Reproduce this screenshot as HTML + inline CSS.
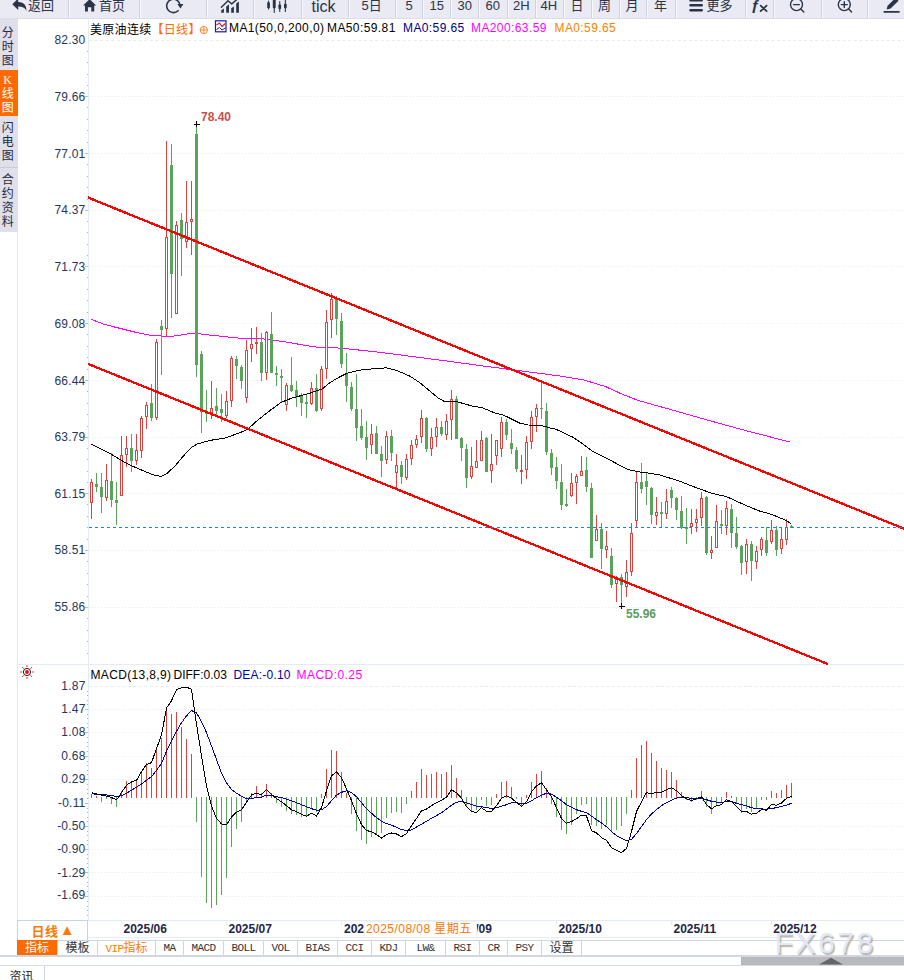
<!DOCTYPE html>
<html lang="zh-CN"><head><meta charset="utf-8"><title>美原油连续 日线</title>
<style>
html,body{margin:0;padding:0;background:#fff}
body{width:904px;height:980px;position:relative;overflow:hidden;font-family:"Liberation Sans","Noto Sans CJK SC",sans-serif;font-size:12px;color:#000}
#tool{position:absolute;left:0;top:0;width:904px;height:18px;background:#e9eaf3;border-bottom:1px solid #dcdde6;overflow:hidden}
#tool span{position:absolute;color:#2b3346;white-space:nowrap}
#tool .t13{font-size:13px;top:-3px;line-height:18px}
#tool .t16{font-size:16px;top:-3.5px;line-height:20px}
#tool .sep{position:absolute;top:0;width:1px;height:18px;background:#d0d4de;border-right:1px solid #f7f8fb}
#side{position:absolute;left:0;top:19px;width:18px;height:213px;background:#dfe0e9}
#side div{position:absolute;left:0;width:18px;padding-right:2.7px;box-sizing:border-box;text-align:center;font-size:12px;line-height:14px;color:#1f2a44}
#side .on{background:#ff6a00;color:#fff}
.yl{position:absolute;left:30px;width:55.5px;text-align:right;font-size:12px;line-height:14px;color:#27355a;letter-spacing:0.2px}
.dl{position:absolute;top:921px;font-size:12px;line-height:16px;font-weight:bold;color:#1d2748}
.hd{position:absolute;top:20px;height:16px;line-height:16px;font-size:12px;white-space:nowrap;letter-spacing:0.4px}
.tab{position:absolute;top:940px;height:15px;line-height:17px;text-align:center;font-size:11px;font-family:"Liberation Mono","Noto Sans CJK SC",monospace;letter-spacing:-0.6px;color:#333;border-left:1px solid #cdd7e2;box-sizing:border-box}
.tab.cn,.tab.on,.tab.vip{font-family:"Liberation Sans","Noto Sans CJK SC",sans-serif;font-size:12px;letter-spacing:0}
.tab.on{background:#ff6a00;color:#fff;border-left:none}
.tab.cn,.tab.on,.tab.vip{line-height:17px}
.tab.vip{color:#ff7a00}
.tab.vip .v{font-family:"Liberation Mono",monospace;font-size:11px;letter-spacing:-0.6px}
</style></head><body>
<svg width="904" height="980" viewBox="0 0 904 980" style="position:absolute;left:0;top:0" shape-rendering="crispEdges">
<line x1="89" y1="40.5" x2="904" y2="40.5" stroke="#e6edf3" stroke-width="1" stroke-dasharray="3 2.5"/>
<line x1="89" y1="96.5" x2="904" y2="96.5" stroke="#e4ebf1" stroke-width="1" stroke-dasharray="1 2"/>
<line x1="89" y1="153.5" x2="904" y2="153.5" stroke="#e4ebf1" stroke-width="1" stroke-dasharray="1 2"/>
<line x1="89" y1="210.5" x2="904" y2="210.5" stroke="#e4ebf1" stroke-width="1" stroke-dasharray="1 2"/>
<line x1="89" y1="266.5" x2="904" y2="266.5" stroke="#e4ebf1" stroke-width="1" stroke-dasharray="1 2"/>
<line x1="89" y1="323.5" x2="904" y2="323.5" stroke="#e4ebf1" stroke-width="1" stroke-dasharray="1 2"/>
<line x1="89" y1="380.5" x2="904" y2="380.5" stroke="#e4ebf1" stroke-width="1" stroke-dasharray="1 2"/>
<line x1="89" y1="437.5" x2="904" y2="437.5" stroke="#e4ebf1" stroke-width="1" stroke-dasharray="1 2"/>
<line x1="89" y1="493.5" x2="904" y2="493.5" stroke="#e4ebf1" stroke-width="1" stroke-dasharray="1 2"/>
<line x1="89" y1="550.5" x2="904" y2="550.5" stroke="#e4ebf1" stroke-width="1" stroke-dasharray="1 2"/>
<line x1="89" y1="607.5" x2="904" y2="607.5" stroke="#e4ebf1" stroke-width="1" stroke-dasharray="1 2"/>
<line x1="89" y1="686.5" x2="904" y2="686.5" stroke="#e6edf3" stroke-width="1" stroke-dasharray="3 2.5"/>
<line x1="89" y1="709.5" x2="904" y2="709.5" stroke="#e4ebf1" stroke-width="1" stroke-dasharray="1 2"/>
<line x1="89" y1="732.5" x2="904" y2="732.5" stroke="#e4ebf1" stroke-width="1" stroke-dasharray="1 2"/>
<line x1="89" y1="756.5" x2="904" y2="756.5" stroke="#e4ebf1" stroke-width="1" stroke-dasharray="1 2"/>
<line x1="89" y1="779.5" x2="904" y2="779.5" stroke="#e4ebf1" stroke-width="1" stroke-dasharray="1 2"/>
<line x1="89" y1="803.5" x2="904" y2="803.5" stroke="#e4ebf1" stroke-width="1" stroke-dasharray="1 2"/>
<line x1="89" y1="826.5" x2="904" y2="826.5" stroke="#e4ebf1" stroke-width="1" stroke-dasharray="1 2"/>
<line x1="89" y1="849.5" x2="904" y2="849.5" stroke="#e4ebf1" stroke-width="1" stroke-dasharray="1 2"/>
<line x1="89" y1="872.5" x2="904" y2="872.5" stroke="#e4ebf1" stroke-width="1" stroke-dasharray="1 2"/>
<line x1="89" y1="896.5" x2="904" y2="896.5" stroke="#e4ebf1" stroke-width="1" stroke-dasharray="1 2"/>
<line x1="88.5" y1="18" x2="88.5" y2="920" stroke="#e4ebf2"/>
<line x1="17.5" y1="232" x2="17.5" y2="956" stroke="#e4ebf2"/>
<line x1="18" y1="664.5" x2="904" y2="664.5" stroke="#e4ebf2"/>
<line x1="18" y1="920.5" x2="904" y2="920.5" stroke="#e4ebf2"/>
<path d="M87 51.5H88 M87 62.5H88 M87 74.5H88 M87 85.5H88 M87 107.5H88 M87 119.5H88 M87 130.5H88 M87 142.5H88 M87 164.5H88 M87 176.5H88 M87 187.5H88 M87 199.5H88 M87 221.5H88 M87 232.5H88 M87 244.5H88 M87 255.5H88 M87 277.5H88 M87 289.5H88 M87 300.5H88 M87 312.5H88 M87 334.5H88 M87 346.5H88 M87 357.5H88 M87 369.5H88 M87 391.5H88 M87 403.5H88 M87 414.5H88 M87 426.5H88 M87 448.5H88 M87 459.5H88 M87 471.5H88 M87 482.5H88 M87 504.5H88 M87 516.5H88 M87 527.5H88 M87 539.5H88 M87 561.5H88 M87 573.5H88 M87 584.5H88 M87 596.5H88 M87 618.5H88 M87 630.5H88 M87 641.5H88 M87 653.5H88 M87 691.5H88 M87 695.5H88 M87 700.5H88 M87 704.5H88 M87 714.5H88 M87 718.5H88 M87 723.5H88 M87 727.5H88 M87 737.5H88 M87 742.5H88 M87 746.5H88 M87 751.5H88 M87 761.5H88 M87 765.5H88 M87 770.5H88 M87 774.5H88 M87 784.5H88 M87 789.5H88 M87 793.5H88 M87 798.5H88 M87 808.5H88 M87 812.5H88 M87 817.5H88 M87 821.5H88 M87 831.5H88 M87 835.5H88 M87 840.5H88 M87 844.5H88 M87 854.5H88 M87 858.5H88 M87 863.5H88 M87 867.5H88 M87 877.5H88 M87 882.5H88 M87 886.5H88 M87 891.5H88 M87 901.5H88 M87 906.5H88 M87 910.5H88 M87 915.5H88" stroke="#a6b0ba" fill="none"/>
<path d="M85 96.5H88 M85 153.5H88 M85 210.5H88 M85 266.5H88 M85 323.5H88 M85 380.5H88 M85 437.5H88 M85 493.5H88 M85 550.5H88 M85 607.5H88 M85 709.5H88 M85 732.5H88 M85 756.5H88 M85 779.5H88 M85 803.5H88 M85 826.5H88 M85 849.5H88 M85 872.5H88 M85 896.5H88" stroke="#b6bec8" fill="none"/>
<line x1="121.5" y1="921" x2="121.5" y2="925" stroke="#e4ebf2"/>
<line x1="226.5" y1="921" x2="226.5" y2="925" stroke="#e4ebf2"/>
<line x1="341.5" y1="921" x2="341.5" y2="925" stroke="#e4ebf2"/>
<line x1="446.5" y1="921" x2="446.5" y2="925" stroke="#e4ebf2"/>
<line x1="556.5" y1="921" x2="556.5" y2="925" stroke="#e4ebf2"/>
<line x1="671.5" y1="921" x2="671.5" y2="925" stroke="#e4ebf2"/>
<line x1="771.5" y1="921" x2="771.5" y2="925" stroke="#e4ebf2"/>
<polyline fill="none" stroke="#ff00ff" stroke-width="1" points="91,319.3 104.6,324.5 120.9,328.6 137.2,332.7 153.6,335.9 173.2,336.2 191.1,333.4 197,333.3 205,334.6 240,338.2 260,338.5 284.5,341.7 313.9,346.9 341.6,348.2 380,352.3 445,360.8 487,366.5 560,376 584,380 605.3,386.5 621.6,393.9 638,400.4 654.3,405 675.4,410.9 710.8,421 746.2,430.7 790.4,442.2"/>
<path d="M91.5 479.1V482.3M91.5 502.2V518.9M106.5 464.2V480.4M106.5 497.3V500.6M121.5 436.1V455.2M121.5 495.4V495.7M126.5 436.1V448.4M126.5 454.4V466.7M136.5 434.0V450.0M136.5 460.6V464.7M141.5 416.2V418.2M141.5 450.5V457.7M146.5 402.2V405.1M146.5 416.9V428.8M156.5 339.1V342.3M156.5 417.7V419.8M166.5 141.0V237.0M166.5 328.8V336.1M176.5 221.0V225.1M176.5 313.3V313.6M186.5 181.0V222.3M186.5 241.4V247.5M191.5 181.0V219.0M191.5 221.8V254.5M211.5 380.8V408.6M211.5 412.7V418.9M226.5 390.9V401.2M226.5 415.9V418.0M231.5 356.0V358.0M231.5 400.4V406.6M246.5 340.2V350.2M246.5 397.5V402.5M251.5 328.0V344.2M251.5 348.6V361.8M256.5 327.1V342.3M256.5 343.1V353.6M266.5 331.1V332.1M266.5 372.8V379.6M286.5 382.9V385.3M286.5 404.4V410.6M311.5 382.0V388.6M311.5 403.6V404.9M321.5 366.0V369.8M321.5 408.7V410.6M326.5 309.9V322.1M326.5 368.5V378.8M331.5 293.1V299.1M331.5 319.5V337.6M371.5 424.1V434.1M371.5 444.6V453.9M386.5 431.0V436.2M386.5 459.6V463.7M396.5 454.2V465.3M396.5 472.7V488.2M406.5 454.2V459.3M406.5 477.9V480.0M411.5 440.0V445.2M411.5 458.8V464.5M416.5 435.1V439.5M416.5 444.9V447.7M421.5 410.3V418.3M421.5 436.4V442.8M431.5 428.2V437.6M431.5 448.5V455.5M436.5 418.0V427.3M436.5 436.4V446.5M446.5 414.4V421.2M446.5 434.6V439.7M451.5 390.2V399.2M451.5 419.6V439.7M471.5 447.0V466.9M471.5 476.7V478.9M476.5 440.0V461.2M476.5 467.8V467.8M481.5 431.0V440.0M481.5 460.7V460.7M491.5 434.0V464.0M491.5 470.7V482.8M496.5 440.0V440.8M496.5 455.5V464.8M501.5 416.8V422.0M501.5 448.7V456.8M521.5 455.0V470.4M521.5 471.0V484.1M526.5 435.9V442.1M526.5 469.4V478.9M531.5 410.9V417.1M531.5 441.1V449.0M536.5 404.1V408.2M536.5 416.3V431.8M571.5 473.1V483.2M571.5 495.9V496.7M576.5 474.2V476.3M576.5 482.5V503.6M581.5 455.9V471.4M581.5 475.5V475.5M596.5 515.1V529.0M596.5 540.4V540.4M606.5 531.1V546.9M606.5 549.9V557.9M616.5 576.3V579.1M616.5 583.3V601.6M626.5 560.0V572.2M626.5 586.1V596.7M631.5 523.3V533.1M631.5 571.4V575.8M636.5 472.2V482.0M636.5 520.2V527.0M656.5 497.1V512.1M656.5 515.7V524.7M666.5 489.0V501.2M666.5 513.5V518.7M691.5 509.1V523.3M691.5 526.5V533.9M696.5 509.1V519.2M696.5 522.4V531.8M701.5 492.2V498.3M701.5 517.1V525.7M711.5 536.0V550.2M711.5 552.7V558.9M716.5 505.0V521.1M716.5 547.4V547.4M726.5 501.2V508.2M726.5 525.7V534.7M746.5 538.8V544.2M746.5 561.6V573.9M756.5 546.1V551.3M756.5 561.6V568.7M761.5 537.1V539.3M761.5 549.4V555.9M771.5 520.0V530.1M771.5 541.6V543.7M781.5 528.2V539.1M781.5 548.6V553.8M786.5 519.2V527.8M786.5 539.3V544.5" stroke="#d6453f" stroke-width="1" fill="none"/>
<g fill="#fff" stroke="#d6453f" stroke-width="1"><rect x="90.5" y="482.3" width="2" height="19.9"/><rect x="105.5" y="480.4" width="2" height="16.9"/><rect x="120.5" y="455.2" width="2" height="40.2"/><rect x="125.5" y="448.4" width="2" height="6.0"/><rect x="135.5" y="450.0" width="2" height="10.6"/><rect x="140.5" y="418.2" width="2" height="32.3"/><rect x="145.5" y="405.1" width="2" height="11.8"/><rect x="155.5" y="342.3" width="2" height="75.4"/><rect x="165.5" y="237.0" width="2" height="91.8"/><rect x="175.5" y="225.1" width="2" height="88.2"/><rect x="185.5" y="222.3" width="2" height="19.1"/><rect x="190.5" y="219.0" width="2" height="2.8"/><rect x="210.5" y="408.6" width="2" height="4.1"/><rect x="225.5" y="401.2" width="2" height="14.7"/><rect x="230.5" y="358.0" width="2" height="42.4"/><rect x="245.5" y="350.2" width="2" height="47.3"/><rect x="250.5" y="344.2" width="2" height="4.4"/><rect x="255.5" y="342.3" width="2" height="1.5"/><rect x="265.5" y="332.1" width="2" height="40.7"/><rect x="285.5" y="385.3" width="2" height="19.1"/><rect x="310.5" y="388.6" width="2" height="15.0"/><rect x="320.5" y="369.8" width="2" height="38.9"/><rect x="325.5" y="322.1" width="2" height="46.4"/><rect x="330.5" y="299.1" width="2" height="20.4"/><rect x="370.5" y="434.1" width="2" height="10.5"/><rect x="385.5" y="436.2" width="2" height="23.4"/><rect x="395.5" y="465.3" width="2" height="7.4"/><rect x="405.5" y="459.3" width="2" height="18.6"/><rect x="410.5" y="445.2" width="2" height="13.6"/><rect x="415.5" y="439.5" width="2" height="5.4"/><rect x="420.5" y="418.3" width="2" height="18.1"/><rect x="430.5" y="437.6" width="2" height="10.9"/><rect x="435.5" y="427.3" width="2" height="9.1"/><rect x="445.5" y="421.2" width="2" height="13.4"/><rect x="450.5" y="399.2" width="2" height="20.4"/><rect x="470.5" y="466.9" width="2" height="9.8"/><rect x="475.5" y="461.2" width="2" height="6.6"/><rect x="480.5" y="440.0" width="2" height="20.7"/><rect x="490.5" y="464.0" width="2" height="6.7"/><rect x="495.5" y="440.8" width="2" height="14.7"/><rect x="500.5" y="422.0" width="2" height="26.7"/><rect x="520.5" y="470.4" width="2" height="1.5"/><rect x="525.5" y="442.1" width="2" height="27.3"/><rect x="530.5" y="417.1" width="2" height="24.0"/><rect x="535.5" y="408.2" width="2" height="8.1"/><rect x="570.5" y="483.2" width="2" height="12.7"/><rect x="575.5" y="476.3" width="2" height="6.2"/><rect x="580.5" y="471.4" width="2" height="4.1"/><rect x="595.5" y="529.0" width="2" height="11.4"/><rect x="605.5" y="546.9" width="2" height="3.0"/><rect x="615.5" y="579.1" width="2" height="4.2"/><rect x="625.5" y="572.2" width="2" height="13.9"/><rect x="630.5" y="533.1" width="2" height="38.3"/><rect x="635.5" y="482.0" width="2" height="38.2"/><rect x="655.5" y="512.1" width="2" height="3.6"/><rect x="665.5" y="501.2" width="2" height="12.3"/><rect x="690.5" y="523.3" width="2" height="3.2"/><rect x="695.5" y="519.2" width="2" height="3.2"/><rect x="700.5" y="498.3" width="2" height="18.8"/><rect x="710.5" y="550.2" width="2" height="2.5"/><rect x="715.5" y="521.1" width="2" height="26.3"/><rect x="725.5" y="508.2" width="2" height="17.5"/><rect x="745.5" y="544.2" width="2" height="17.4"/><rect x="755.5" y="551.3" width="2" height="10.3"/><rect x="760.5" y="539.3" width="2" height="10.1"/><rect x="770.5" y="530.1" width="2" height="11.5"/><rect x="780.5" y="539.1" width="2" height="9.5"/><rect x="785.5" y="527.8" width="2" height="11.5"/></g>
<path d="M96.5 473.2V491.6M101.5 473.2V512.9M111.5 453.3V506.8M116.5 482.2V524.6M131.5 434.0V471.6M151.5 384.2V420.6M161.5 319.8V374.5M171.5 144.0V317.7M181.5 213.2V275.7M196.5 124.7V376.5M201.5 351.1V432.7M206.5 389.8V421.6M216.5 387.8V415.1M221.5 393.9V421.6M236.5 356.0V378.9M241.5 365.0V388.7M261.5 333.2V380.5M271.5 312.2V372.7M276.5 366.0V385.8M281.5 369.0V401.8M291.5 357.0V391.9M296.5 381.0V406.7M301.5 393.1V415.8M306.5 394.9V417.6M316.5 373.9V411.9M336.5 296.0V334.7M341.5 313.1V367.6M346.5 353.1V401.8M351.5 382.0V410.6M356.5 374.2V440.8M361.5 409.0V440.0M366.5 420.9V459.6M376.5 426.1V453.9M381.5 446.0V476.7M391.5 430.2V460.7M401.5 461.2V483.6M426.5 416.8V451.8M441.5 421.2V435.9M456.5 396.2V438.9M461.5 436.7V460.7M466.5 444.1V487.7M486.5 436.7V471.8M506.5 418.8V440.0M511.5 428.9V453.9M516.5 447.0V472.2M541.5 382.9V418.8M546.5 402.9V454.7M551.5 449.0V474.8M556.5 456.8V489.0M561.5 464.1V509.8M566.5 489.1V506.9M586.5 457.1V491.8M591.5 483.2V557.6M601.5 523.3V568.7M611.5 548.2V587.8M621.5 574.2V606.5M641.5 463.3V492.7M646.5 473.1V504.8M651.5 486.9V523.8M661.5 502.0V527.3M671.5 486.9V507.8M676.5 496.8V519.7M681.5 496.0V529.0M686.5 508.1V543.7M706.5 495.5V554.8M721.5 510.2V533.9M731.5 504.2V547.8M736.5 517.1V548.6M741.5 545.3V574.7M751.5 541.2V580.7M766.5 527.3V555.6M776.5 526.2V555.6M791.5 525.0V527.7" stroke="#5aa35a" stroke-width="1" fill="none"/>
<g fill="#5aa35a"><rect x="95.0" y="484.3" width="3" height="2.6"/><rect x="100.0" y="487.2" width="3" height="9.3"/><rect x="110.0" y="481.0" width="3" height="18.8"/><rect x="115.0" y="500.1" width="3" height="2.5"/><rect x="130.0" y="448.0" width="3" height="12.6"/><rect x="150.0" y="403.0" width="3" height="14.7"/><rect x="160.0" y="326.3" width="3" height="3.3"/><rect x="170.0" y="165.2" width="3" height="108.6"/><rect x="180.0" y="220.2" width="3" height="18.8"/><rect x="195.0" y="134.2" width="3" height="230.5"/><rect x="200.0" y="354.0" width="3" height="57.8"/><rect x="205.0" y="412.3" width="3" height="1.2"/><rect x="215.0" y="406.1" width="3" height="4.9"/><rect x="220.0" y="408.9" width="3" height="3.8"/><rect x="235.0" y="359.1" width="3" height="6.7"/><rect x="240.0" y="366.9" width="3" height="13.9"/><rect x="260.0" y="341.9" width="3" height="30.9"/><rect x="270.0" y="333.9" width="3" height="38.8"/><rect x="275.0" y="373.0" width="3" height="1.7"/><rect x="280.0" y="376.0" width="3" height="1.7"/><rect x="290.0" y="385.3" width="3" height="5.7"/><rect x="295.0" y="390.2" width="3" height="6.3"/><rect x="300.0" y="395.3" width="3" height="7.5"/><rect x="305.0" y="401.8" width="3" height="1.8"/><rect x="315.0" y="387.8" width="3" height="22.8"/><rect x="335.0" y="298.8" width="3" height="19.9"/><rect x="340.0" y="320.8" width="3" height="42.8"/><rect x="345.0" y="374.4" width="3" height="11.4"/><rect x="350.0" y="386.9" width="3" height="22.1"/><rect x="355.0" y="409.0" width="3" height="18.8"/><rect x="360.0" y="426.1" width="3" height="11.9"/><rect x="365.0" y="437.0" width="3" height="10.8"/><rect x="375.0" y="432.9" width="3" height="21.0"/><rect x="380.0" y="454.2" width="3" height="6.5"/><rect x="390.0" y="435.9" width="3" height="16.8"/><rect x="400.0" y="465.3" width="3" height="11.4"/><rect x="425.0" y="418.0" width="3" height="31.0"/><rect x="440.0" y="426.9" width="3" height="6.9"/><rect x="455.0" y="398.9" width="3" height="40.0"/><rect x="460.0" y="438.0" width="3" height="9.7"/><rect x="465.0" y="449.0" width="3" height="28.6"/><rect x="485.0" y="438.0" width="3" height="33.8"/><rect x="505.0" y="421.7" width="3" height="13.1"/><rect x="510.0" y="442.9" width="3" height="6.1"/><rect x="515.0" y="449.8" width="3" height="18.8"/><rect x="540.0" y="408.2" width="3" height="1.2"/><rect x="545.0" y="411.1" width="3" height="40.7"/><rect x="550.0" y="453.1" width="3" height="14.7"/><rect x="555.0" y="466.9" width="3" height="13.9"/><rect x="560.0" y="482.0" width="3" height="22.9"/><rect x="565.0" y="504.1" width="3" height="1.9"/><rect x="585.0" y="469.8" width="3" height="16.9"/><rect x="590.0" y="487.8" width="3" height="69.8"/><rect x="600.0" y="528.7" width="3" height="20.7"/><rect x="610.0" y="555.9" width="3" height="28.6"/><rect x="620.0" y="577.1" width="3" height="8.2"/><rect x="640.0" y="482.0" width="3" height="6.7"/><rect x="645.0" y="481.2" width="3" height="5.5"/><rect x="650.0" y="487.8" width="3" height="27.6"/><rect x="660.0" y="512.3" width="3" height="1.2"/><rect x="670.0" y="490.1" width="3" height="7.5"/><rect x="675.0" y="498.0" width="3" height="12.2"/><rect x="680.0" y="511.0" width="3" height="17.2"/><rect x="685.0" y="527.3" width="3" height="2.1"/><rect x="705.0" y="496.8" width="3" height="55.9"/><rect x="720.0" y="524.1" width="3" height="1.6"/><rect x="730.0" y="509.1" width="3" height="23.5"/><rect x="735.0" y="533.1" width="3" height="13.8"/><rect x="740.0" y="546.1" width="3" height="16.7"/><rect x="750.0" y="544.0" width="3" height="16.8"/><rect x="765.0" y="539.9" width="3" height="12.8"/><rect x="775.0" y="530.1" width="3" height="19.6"/><rect x="790.0" y="526.0" width="3" height="1.7"/></g>
<polyline fill="none" stroke="#000" stroke-width="1" points="91,444.2 111,454.1 127.4,463.9 140.5,469.6 153.6,475 160.9,476.4 166.6,473.7 174.8,466.3 183,456.5 191.1,447.6 197.7,443.8 205,441.8 210,440.4 225,438 240,432.7 248,429 257,420.8 270,410.5 281.2,402.3 292.7,397.8 309,393.5 322,389.1 330.2,382.5 338.4,377.6 346.5,373.5 358,370.4 364.5,369.5 386.5,367.8 397.1,370.6 410.2,376.3 420,382.9 429.8,391 438,397.9 443.7,401.1 449.8,401.6 458,402 472.7,406.2 482.4,407.8 493.9,412.6 503.7,415.2 511.8,419.1 520,423.2 528.2,425 541.2,425.4 551,428.2 554.7,428.7 572.7,437.1 582.4,443.7 592.2,451 605.3,457.6 618.4,464.6 628.2,469.5 638,471.8 651,473.4 660,475 680,481.3 696.3,487.7 712.7,493.6 725.7,496.3 742,503.7 758.4,510.7 771.4,514.3 784.5,519.7 791.3,523.6"/>
<line x1="88" y1="197.5" x2="904" y2="528.7" stroke="#ff0000" stroke-width="2.3"/>
<line x1="88" y1="363.9" x2="828" y2="664.1" stroke="#ff0000" stroke-width="2.3"/>
<line x1="89" y1="527.5" x2="904" y2="527.5" stroke="#0a84ff" stroke-width="1" stroke-dasharray="3 3"/>
<path d="M194 124.5H200M196.5 121V127M619 606.5H625M621.5 603V609" stroke="#000" fill="none"/>
<path d="M91.5 793.8V798M96.5 796.0V798M121.5 791.3V798M126.5 780.8V798M131.5 782.8V798M136.5 780.8V798M141.5 771.7V798M146.5 763.2V798M151.5 768.1V798M156.5 748.5V798M161.5 738.2V798M166.5 708.1V798M171.5 713.7V798M176.5 711.7V798M181.5 726.9V798M186.5 739.2V798M191.5 753.9V798M251.5 793.0V798M256.5 786.0V798M261.5 793.2V798M266.5 783.8V798M271.5 792.7V798M321.5 793.7V798M326.5 768.9V798M331.5 749.9V798M336.5 750.9V798M341.5 771.8V798M346.5 792.7V798M411.5 790.8V798M416.5 781.8V798M421.5 768.9V798M426.5 774.8V798M431.5 773.8V798M436.5 771.8V798M441.5 773.8V798M446.5 771.8V798M451.5 764.9V798M456.5 777.8V798M461.5 789.8V798M496.5 793.7V798M501.5 781.8V798M506.5 780.8V798M511.5 786.8V798M526.5 794.7V798M531.5 781.8V798M536.5 773.8V798M541.5 770.8V798M546.5 787.8V798M631.5 789.7V798M636.5 757.9V798M641.5 744.9V798M646.5 741.0V798M651.5 752.9V798M656.5 760.9V798M661.5 767.8V798M666.5 769.8V798M671.5 771.8V798M676.5 779.8V798M681.5 792.1V798M701.5 790.7V798M726.5 791.7V798M731.5 795.7V798M771.5 791.0V798M776.5 793.1V798M781.5 789.9V798M786.5 785.1V798M791.5 783.1V798" stroke="#d6453f" fill="none"/>
<path d="M101.5 797V802.1M106.5 797V799.2M111.5 797V804.1M116.5 797V807.0M196.5 797V822.0M201.5 797V877.1M206.5 797V902.8M211.5 797V908.2M216.5 797V905.0M221.5 797V894.7M226.5 797V878.3M231.5 797V846.9M236.5 797V829.1M241.5 797V822.0M246.5 797V801.6M276.5 797V803.2M281.5 797V807.2M286.5 797V811.2M291.5 797V814.2M296.5 797V815.1M301.5 797V817.1M306.5 797V816.1M311.5 797V808.2M316.5 797V812.2M351.5 797V814.2M356.5 797V831.1M361.5 797V840.0M366.5 797V844.4M371.5 797V837.1M376.5 797V835.1M381.5 797V833.1M386.5 797V818.1M391.5 797V813.2M396.5 797V812.2M401.5 797V813.2M406.5 797V804.2M466.5 797V807.2M471.5 797V812.2M476.5 797V810.2M481.5 797V800.2M486.5 797V806.2M491.5 797V805.2M516.5 797V798.8M521.5 797V806.2M551.5 797V804.2M556.5 797V817.1M561.5 797V830.1M566.5 797V834.1M571.5 797V825.1M576.5 797V814.2M581.5 797V805.2M586.5 797V804.2M591.5 797V825.1M596.5 797V826.1M601.5 797V829.1M606.5 797V825.1M611.5 797V832.1M616.5 797V830.1M621.5 797V826.1M626.5 797V814.1M686.5 797V799.8M691.5 797V802.2M696.5 797V800.2M706.5 797V807.2M711.5 797V814.1M716.5 797V806.2M721.5 797V803.2M736.5 797V804.2M741.5 797V813.2M746.5 797V809.2M751.5 797V812.2M756.5 797V807.8M761.5 797V800.3M766.5 797V800.3" stroke="#5aa35a" fill="none"/>
<polyline fill="none" stroke="#00009c" stroke-width="1" points="91.5,793.8 96.5,794.2 101.5,794.5 106.5,795 111.5,795.5 116.5,796.7 121.5,795.7 126.5,793.3 131.5,790.1 136.5,787.2 141.5,784 146.5,780.3 151.5,776.6 156.5,770.5 161.5,763.2 166.5,751.4 171.5,741.1 176.5,731.3 181.5,722.8 186.5,715.9 191.5,710.5 196.5,713 201.5,721.5 206.5,732.6 211.5,746 216.5,759.5 221.5,773 226.5,782.8 231.5,789.4 236.5,793.3 241.5,796.2 246.5,798.7 251.5,798.7 256.5,797.5 261.5,797.2 266.5,795.1 271.5,795.3 276.5,796.7 281.5,797.7 286.5,799.1 291.5,800.7 296.5,802.7 301.5,804.7 306.5,806.7 311.5,808.7 316.5,810.3 321.5,809.7 326.5,806.7 331.5,800.7 336.5,795.1 341.5,792.3 346.5,790.8 351.5,792.7 356.5,796.7 361.5,802.7 366.5,808.7 371.5,813.3 376.5,817.6 381.5,821.2 386.5,823.6 391.5,825.2 396.5,827.2 401.5,829.6 406.5,830.6 411.5,830 416.5,827 421.5,824.2 426.5,821.3 431.5,818.3 436.5,815.6 441.5,812.7 446.5,809.1 451.5,805.1 456.5,802.3 461.5,801.1 466.5,802.7 471.5,804.7 476.5,806.1 481.5,806.7 486.5,807.7 491.5,808.3 496.5,807.7 501.5,806.3 506.5,804.7 511.5,802.7 516.5,802.7 521.5,803.7 526.5,803.3 531.5,800.7 536.5,797.7 541.5,795.3 546.5,793.1 551.5,794.1 556.5,797.3 561.5,800.7 566.5,804.7 571.5,807.1 576.5,809.7 581.5,811.3 586.5,812.7 591.5,816.2 596.5,819.6 601.5,823 606.5,826.6 611.5,831.6 616.5,835.5 621.5,838.5 626.5,840.5 631.5,839.5 636.5,833.5 641.5,826.6 646.5,819.6 651.5,814 656.5,809.6 661.5,805.7 666.5,802.7 671.5,800.1 676.5,798.1 681.5,797.3 686.5,797.7 691.5,798.3 696.5,798.3 701.5,798.1 706.5,799.7 711.5,801.3 716.5,802.1 721.5,802.7 726.5,801.3 731.5,801.7 736.5,803.3 741.5,804.5 746.5,805.9 751.5,807.7 756.5,808.6 761.5,808.9 766.5,809.2 771.5,808.6 776.5,807.6 781.5,806.3 786.5,805.1 791.5,803.3"/>
<polyline fill="none" stroke="#000" stroke-width="1" points="91.5,792.6 96.5,793.8 101.5,795 106.5,796.2 111.5,797.5 116.5,799.9 121.5,792.6 126.5,785.2 131.5,782 136.5,780.3 141.5,771.7 146.5,764.4 151.5,762.7 156.5,748.5 161.5,735 166.5,708.1 171.5,700.7 176.5,689.7 181.5,687.7 186.5,687.2 191.5,689.2 196.5,724 201.5,755.8 206.5,786.4 211.5,806 216.5,818.3 221.5,823.9 226.5,824.9 231.5,817 236.5,812.2 241.5,809.7 246.5,802.4 251.5,795 256.5,793.1 261.5,794.7 266.5,789.8 271.5,794.3 276.5,798.7 281.5,801.7 286.5,805.7 291.5,809.7 296.5,811.7 301.5,814.3 306.5,816.2 311.5,813.3 316.5,816 321.5,807.7 326.5,790.8 331.5,775.8 336.5,771.8 341.5,777.8 346.5,788.8 351.5,800.7 356.5,813.7 361.5,824.6 366.5,830.6 371.5,831.6 376.5,834.6 381.5,838.1 386.5,834.6 391.5,833 396.5,834 401.5,836.6 406.5,833.6 411.5,825.6 416.5,818.6 421.5,810.7 426.5,809.1 431.5,805.7 436.5,802.7 441.5,800.3 446.5,797.3 451.5,789.8 456.5,792.7 461.5,798.3 466.5,806.7 471.5,811.7 476.5,812.3 481.5,807.7 486.5,811.3 491.5,811.3 496.5,805.7 501.5,798.3 506.5,795.7 511.5,798.3 516.5,802.3 521.5,806.3 526.5,801.7 531.5,791.8 536.5,785.8 541.5,782.8 546.5,789.8 551.5,796.7 556.5,807.7 561.5,818.6 566.5,823.2 571.5,821.6 576.5,818.6 581.5,815.2 586.5,816 591.5,830.6 596.5,833 601.5,837.5 606.5,840.5 611.5,847.5 616.5,850.5 621.5,852.5 626.5,848.5 631.5,831.6 636.5,811.6 641.5,801.7 646.5,792.7 651.5,793.7 656.5,792.3 661.5,792.3 666.5,789.7 671.5,787.7 676.5,790.7 681.5,795.7 686.5,798.7 691.5,800.7 696.5,798.7 701.5,796.7 706.5,804.7 711.5,808.7 716.5,805.7 721.5,804.7 726.5,799.7 731.5,801.7 736.5,806.7 741.5,811.4 746.5,811.4 751.5,814.2 756.5,813.2 761.5,809.4 766.5,810.4 771.5,804.4 776.5,805.3 781.5,803 786.5,798.3 791.5,796.4"/>
</svg>
<div id="tool"><i class="sep" style="left:68.0px"></i><i class="sep" style="left:139.0px"></i><i class="sep" style="left:206.0px"></i><i class="sep" style="left:253.0px"></i><i class="sep" style="left:300.5px"></i><i class="sep" style="left:347.5px"></i><i class="sep" style="left:394.5px"></i><i class="sep" style="left:422.0px"></i><i class="sep" style="left:450.0px"></i><i class="sep" style="left:478.0px"></i><i class="sep" style="left:506.5px"></i><i class="sep" style="left:534.5px"></i><i class="sep" style="left:562.5px"></i><i class="sep" style="left:590.5px"></i><i class="sep" style="left:618.5px"></i><i class="sep" style="left:646.0px"></i><i class="sep" style="left:674.5px"></i><i class="sep" style="left:745.0px"></i><i class="sep" style="left:773.0px"></i><i class="sep" style="left:820.5px"></i><i class="sep" style="left:867.0px"></i><span class="t13" style="left:28px">返回</span><span class="t13" style="left:99px">首页</span><span class="t16" style="left:311.5px">tick</span><span class="t13" style="left:361.5px">5日</span><span class="t13" style="left:405.5px">5</span><span class="t13" style="left:429.5px">15</span><span class="t13" style="left:457.5px">30</span><span class="t13" style="left:485.5px">60</span><span class="t13" style="left:513px">2H</span><span class="t13" style="left:540.5px">4H</span><span class="t13" style="left:570.5px">日</span><span class="t13" style="left:598px">周</span><span class="t13" style="left:625.5px">月</span><span class="t13" style="left:654px">年</span><span class="t13" style="left:706.5px">更多</span><svg width="904" height="18" viewBox="0 0 904 18" style="position:absolute;left:0;top:0">
<g fill="#2b3346" stroke="none">
<path d="M12.3 4.2L18.2 -1.5V2C23.5 2 26.6 5 26.4 10.8C25 7.6 22.5 6.4 18.2 6.4V9.9Z"/>
<path d="M83 5.6L89.6 -0.8L96.2 5.6H94.2V11.6H91.3V7.2H87.9V11.6H85V5.6Z"/>
<rect x="689.3" y="-1" width="13.6" height="2.5" rx="1"/><rect x="689.3" y="4" width="13.6" height="2.5" rx="1"/><rect x="689.3" y="9" width="13.6" height="2.5" rx="1"/>
<path d="M221.2 12.7V10.2L223.9 8.4V12.7ZM226.2 12.7V6.4L229 4.6V12.7ZM231.2 12.7V8.2L233.9 6.4V12.7ZM236.2 12.7V3.6L238.9 1.6V12.7Z"/>
<rect x="267.2" y="2.2" width="2.7" height="6" rx="0.8"/><rect x="272.8" y="-2" width="2.9" height="10.2" rx="0.8"/><rect x="278.4" y="4.5" width="2.7" height="4.5" rx="0.8"/><rect x="284" y="3.7" width="2.7" height="4.5" rx="0.8"/>
</g>
<g fill="none" stroke="#2b3346" stroke-width="1.6" stroke-linecap="round" stroke-linejoin="round">
<path d="M221.4 7.3L228 0.8L231.7 3.9L238.6 -2" stroke-width="1.4"/>
<path d="M268.55 1V9M274.25 -4V12.5M279.75 1.6V11.5M285.35 -2V11.5" stroke-width="1.1"/>
<path d="M178.1 10.7A6.7 6.7 0 1 1 180.1 5.4" stroke-width="1.6"/>
<circle cx="796.5" cy="4.6" r="6" stroke-width="1.4"/><path d="M793.6 4.6H799.4M800.8 9L803.8 12" stroke-width="1.4"/>
<circle cx="844.3" cy="4.6" r="6" stroke-width="1.4"/><path d="M841.3 4.6H847.3M844.3 1.6V7.6M848.6 9L851.6 12" stroke-width="1.4"/>
<path d="M884.2 11.9H899" stroke-width="1.6"/>
</g>
<path d="M177.4 4.1H183.4L180.4 8.5Z" fill="#2b3346"/>
<path d="M886.6 9.6L887.6 5.8L895.6 -2.2L898.6 0.8L890.6 8.6Z" fill="#2b3346"/>
<text x="751.0" y="10.1" font-family="Liberation Sans,sans-serif" font-weight="bold" font-size="15.5" fill="#2b3346">ƒ</text>
<path d="M760.6 5.6L766.6 11.2M766.6 5.6L760.6 11.2" stroke="#2b3346" stroke-width="1.7" stroke-linecap="round" fill="none"/>
</svg></div>
<div id="side">
<div style="top:0;height:51px;padding-top:7px">分<br>时<br>图</div>
<div class="on" style="top:51px;height:46px;padding-top:3px"><span style="font-family:'Liberation Serif',serif;font-size:12px">K</span><br>线<br>图</div>
<div style="top:97px;height:52px;padding-top:5px;border-bottom:1px solid #c9ccd6">闪<br>电<br>图</div>
<div style="top:149px;height:64px;padding-top:5px">合<br>约<br>资<br>料</div>
</div>
<div class="yl" style="top:33.0px">82.30</div><div class="yl" style="top:90.0px">79.66</div><div class="yl" style="top:147.0px">77.01</div><div class="yl" style="top:203.0px">74.37</div><div class="yl" style="top:260.0px">71.73</div><div class="yl" style="top:317.0px">69.08</div><div class="yl" style="top:374.0px">66.44</div><div class="yl" style="top:430.0px">63.79</div><div class="yl" style="top:487.0px">61.15</div><div class="yl" style="top:543.0px">58.51</div><div class="yl" style="top:600.0px">55.86</div><div class="yl" style="top:679.3px">1.87</div><div class="yl" style="top:701.8px">1.47</div><div class="yl" style="top:725.1px">1.08</div><div class="yl" style="top:748.7px">0.68</div><div class="yl" style="top:772.3px">0.29</div><div class="yl" style="top:795.5px">-0.11</div><div class="yl" style="top:819.1px">-0.50</div><div class="yl" style="top:842.0px">-0.90</div><div class="yl" style="top:865.8px">-1.29</div><div class="yl" style="top:888.4px">-1.69</div>
<div class="hd" style="left:90px;top:21.5px;letter-spacing:0.3px">美原油连续<span style="color:#ff6a00">【日线】</span></div>
<svg width="30" height="16" style="position:absolute;left:198px;top:20px" viewBox="0 0 30 16"><circle cx="5.8" cy="10" r="3.6" fill="none" stroke="#ff7a1a" stroke-width="0.9"/><path d="M1.8 10H9.8M5.8 6V14" stroke="#ff7a1a" stroke-width="0.9" fill="none"/><rect x="17.5" y="0.8" width="10.5" height="11" fill="#fff" stroke="#1a1aa8" stroke-width="1.2"/><path d="M18.5 5L21.5 3L24 6.5L27.3 3.5" stroke="#e02020" stroke-width="1.2" fill="none"/><path d="M18.5 9.5L21.5 7.5L24 10L27.3 8" stroke="#1a1aa8" stroke-width="1" fill="none"/></svg>
<div class="hd" style="left:229px">MA1(50,0,200,0)</div>
<div class="hd" style="left:327px">MA50:59.81</div>
<div class="hd" style="left:403px;color:#00008b">MA0:59.65</div>
<div class="hd" style="left:471px;color:#ff00ff">MA200:63.59</div>
<div class="hd" style="left:554.5px;color:#ff7f00">MA0:59.65</div>
<div class="hd" style="left:201px;top:109px;letter-spacing:0;font-weight:bold;color:#c8504a">78.40</div>
<div class="hd" style="left:626px;top:606px;letter-spacing:0;font-weight:bold;color:#5a9c5e">55.96</div>
<svg width="18" height="18" style="position:absolute;left:18px;top:663px" viewBox="0 0 18 18"><circle cx="9" cy="9" r="3.6" fill="#fff" stroke="#000" stroke-width="0.9"/><circle cx="9" cy="9" r="1.9" fill="#ff0000"/><path d="M9 2.2V4M9 14V15.8M2.2 9H4M14 9H15.8M4.2 4.2L5.5 5.5M12.5 12.5L13.8 13.8M13.8 4.2L12.5 5.5M5.5 12.5L4.2 13.8" stroke="#ff0000" stroke-width="0.9" fill="none"/></svg>
<div class="hd" style="left:90.5px;top:667px;letter-spacing:0.35px">MACD(13,8,9)</div>
<div class="hd" style="left:173.5px;top:667px;letter-spacing:0">DIFF:0.03</div>
<div class="hd" style="left:233.5px;top:667px;letter-spacing:0.2px;color:#00009c">DEA:-0.10</div>
<div class="hd" style="left:296.5px;top:667px;letter-spacing:0.45px;color:#ff00ff">MACD:0.25</div>
<div class="dl" style="left:123.5px">2025/06</div><div class="dl" style="left:228.5px">2025/07</div><div class="dl" style="left:344px">2025/08</div><div class="dl" style="left:448.6px">2025/09</div><div class="dl" style="left:558.5px">2025/10</div><div class="dl" style="left:673.5px">2025/11</div><div class="dl" style="left:773.3px">2025/12</div>
<div style="position:absolute;left:364px;top:921px;width:110.5px;height:15px;background:#fff;border:1px solid #edf2f7"></div>
<div style="position:absolute;left:366px;top:921px;font-size:12px;letter-spacing:0.45px;line-height:16px;color:#ff7700;white-space:nowrap">2025/08/08 星期五</div>
<div style="position:absolute;left:17px;top:920px;width:69px;height:19px;border:1px solid #c8d4e0;box-sizing:content-box;background:#fff"></div>
<div style="position:absolute;left:31.5px;top:921.5px;font-size:13px;letter-spacing:0.4px;line-height:18px;font-weight:bold;color:#ff7a00;white-space:nowrap">日线 <span style="font-size:15px;position:relative;top:-0.5px;left:-2.5px">▲</span></div>
<div style="position:absolute;left:88px;top:937px;width:708px;height:1px;background:#e8edf3"></div>
<div style="position:absolute;left:87px;top:940px;width:817px;height:1px;background:#cdd7e2"></div>
<div class="tab on" style="left:17px;width:40px">指标</div><div class="tab cn" style="left:57px;width:40px">模板</div><div class="tab vip" style="left:97px;width:58px"><span class="v">VIP</span>指标</div><div class="tab " style="left:155px;width:28px">MA</div><div class="tab " style="left:183px;width:40px">MACD</div><div class="tab " style="left:223px;width:40px">BOLL</div><div class="tab " style="left:263px;width:34px">VOL</div><div class="tab " style="left:297px;width:40px">BIAS</div><div class="tab " style="left:337px;width:34px">CCI</div><div class="tab " style="left:371px;width:34px">KDJ</div><div class="tab " style="left:405px;width:40px">LW&amp;</div><div class="tab " style="left:445px;width:34px">RSI</div><div class="tab " style="left:479px;width:28px">CR</div><div class="tab " style="left:507px;width:34px">PSY</div><div class="tab cn" style="left:541px;width:40px">设置</div>
<div style="position:absolute;left:581px;top:940px;width:1px;height:15px;background:#cdd7e2"></div>
<div style="position:absolute;left:0;top:955px;width:904px;height:2px;background:#cfd7e0"></div>
<div style="position:absolute;left:741px;top:957px;width:163px;height:8px;background:#b9b9bd"></div>
<svg width="26" height="8" style="position:absolute;left:818px;top:957px" viewBox="0 0 26 8"><path d="M1 7.5L13 0.8L25 7.5Z" fill="#666"/></svg>
<div style="position:absolute;left:0;top:965px;width:904px;height:1px;background:#d5dce4"></div>
<div style="position:absolute;left:0;top:966px;width:44px;height:14px;border-right:1px solid #cfd7e0;font-size:12px;line-height:18px;color:#222;overflow:hidden"><span style="position:absolute;left:9.5px;top:2px">资讯</span></div>
<div style="position:absolute;left:774.5px;top:926px;font-size:30px;line-height:34px;letter-spacing:2.6px;color:#dfe9f8;text-shadow:1.5px 1.5px 1.2px #b8b0a8;white-space:nowrap">FX678</div>
</body></html>
